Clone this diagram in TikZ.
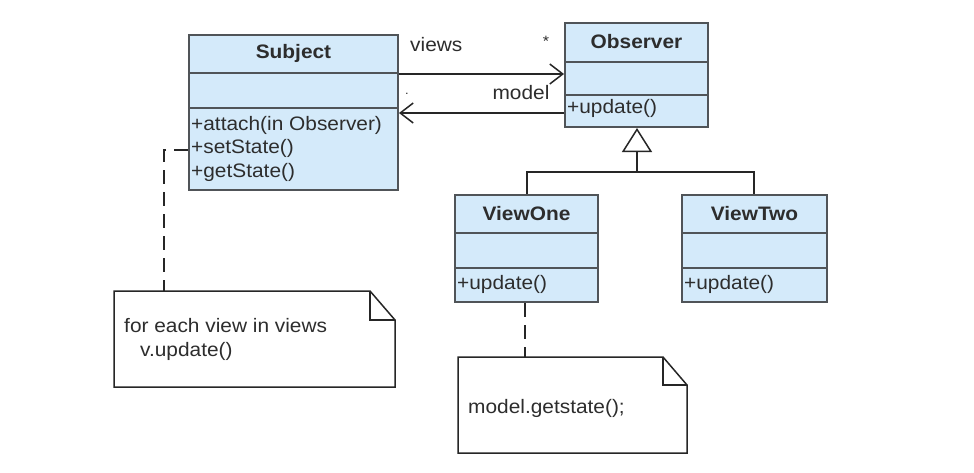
\documentclass[tikz,border=0pt]{standalone}
\usepackage{fontspec}
\setmainfont{Liberation Sans}[FakeStretch=1.07]
\usetikzlibrary{arrows.meta}
\definecolor{boxfill}{RGB}{212,234,250}
\definecolor{boxline}{RGB}{80,84,88}
\definecolor{txt}{RGB}{45,45,45}
\tikzset{
  classbox/.style={draw=boxline, line width=2pt, fill=boxfill, rectangle, inner sep=0pt},
  sep/.style={draw=boxline, line width=1.6pt},
  hdr/.style={font=\fontsize{19.5}{23}\selectfont\bfseries, text=txt, inner sep=0pt},
  op/.style={font=\fontsize{19.5}{23}\selectfont, text=txt, inner sep=0pt, anchor=west},
  lbl/.style={font=\fontsize{19.5}{23}\selectfont, text=txt, inner sep=0pt},
  conn/.style={draw=black!85, line width=1.5pt},
  notebox/.style={draw=black!85, line width=1.5pt, fill=white},
  notelink/.style={draw=black!85, line width=1.6pt, dash pattern=on 14pt off 8pt},
}
\begin{document}
\begin{tikzpicture}[x=1pt,y=-1pt]
\useasboundingbox[fill=white] (0,0) rectangle (974,472);

% Subject
\node[classbox, minimum width=209pt, minimum height=155pt] (subj) at (293.5,112.5) {};
\draw[sep] (189,73) -- (398,73);
\draw[sep] (189,108) -- (398,108);
\node[hdr] (subjname) at (293.5,53) {Subject};
\node[op] (sop1) at (191,125) {+attach(in Observer)};
\node[op] (sop2) at (191,148) {+setState()};
\node[op] (sop3) at (191,172) {+getState()};

% Observer
\node[classbox, minimum width=143pt, minimum height=104pt] (obs) at (636.5,75) {};
\draw[sep] (565,62) -- (708,62);
\draw[sep] (565,95) -- (708,95);
\node[hdr] (obsname) at (636.5,42) {Observer};
\node[op] (oop1) at (567,108) {+update()};

% ViewOne
\node[classbox, minimum width=143pt, minimum height=107pt] (v1) at (526.5,248.5) {};
\draw[sep] (455,233) -- (598,233);
\draw[sep] (455,268) -- (598,268);
\node[hdr] (v1name) at (526.5,214) {ViewOne};
\node[op] (v1op) at (457,284) {+update()};

% ViewTwo
\node[classbox, minimum width=145pt, minimum height=107pt] (v2) at (754.5,248.5) {};
\draw[sep] (682,233) -- (827,233);
\draw[sep] (682,268) -- (827,268);
\node[hdr] (v2name) at (754.5,214) {ViewTwo};
\node[op] (v2op) at (684,284) {+update()};

% associations
\draw[conn, -{Straight Barb[length=13pt,width=20pt,line width=1.5pt]}] (subj.east |- 0,74) -- (obs.west |- 0,74);
\draw[conn, -{Straight Barb[length=13pt,width=20pt,line width=1.5pt]}] (obs.west |- 0,113) -- (subj.east |- 0,113);
\node[lbl, anchor=west] (views) at (410,45) {views};
\node[lbl, font=\fontsize{15}{17}\selectfont] (star) at (546,41) {*};
\node[lbl] (model) at (521,93) {model};
\node[lbl, font=\fontsize{12}{14}\selectfont] (one) at (407,94) {.};

% generalization
\coordinate (bar) at (637,172);
\coordinate (b1) at (527,172);
\coordinate (b2) at (754,172);
\draw[conn] (v1.north -| b1) -- (b1) -- (b2) -- (v2.north -| b2);
\draw[conn, -{Triangle[open, length=24pt, width=30pt, line width=1.5pt]}, fill=white] (bar) -- (obs.south -| bar);

% note 1
\path[notebox] (114,291) -- (370,291) -- (395,320) -- (395,387) -- (114,387) -- cycle;
\draw[conn] (370,291) -- (370,320) -- (395,320);
\node[lbl, anchor=west] (n1t1) at (124,326) {for each view in views};
\node[lbl, anchor=west] (n1t2) at (140,351) {v.update()};
\coordinate (n1top) at (164,291);
\draw[notelink] (subj.west |- 0,150) -- (164,150) -- (n1top);

% note 2
\path[notebox] (458,357) -- (663,357) -- (687,385) -- (687,453) -- (458,453) -- cycle;
\draw[conn] (663,357) -- (663,385) -- (687,385);
\node[lbl, anchor=west] (n2t) at (468,408) {model.getstate();};
\coordinate (n2top) at (525,357);
\draw[notelink] (v1.south -| n2top) -- (n2top);
\end{tikzpicture}
\end{document}
